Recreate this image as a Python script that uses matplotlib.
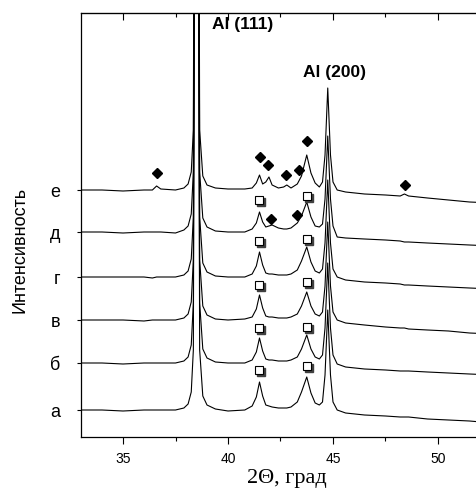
import numpy as np
import matplotlib.pyplot as plt
from matplotlib import transforms

plt.rcParams['font.family'] = ['Liberation Sans', 'DejaVu Sans']

# 2theta grid (deg) and intensity of each pattern above its own baseline
two_theta = [33.0, 34.0, 35.0, 36.0, 36.4, 36.6, 36.8, 37.5, 37.9, 38.1,
             38.25, 38.35, 38.5, 38.65, 38.8, 39.0, 39.4, 40.0, 40.8,
             41.15, 41.35, 41.5, 41.65, 41.8, 41.95, 42.1, 42.4, 42.65, 42.8,
             43.0, 43.3, 43.5, 43.75, 43.95, 44.15, 44.35, 44.5, 44.62, 44.75,
             44.88, 45.0, 45.2, 45.6, 46.5, 47.5, 48.2, 48.4, 48.6, 49.5,
             50.5, 51.5, 52.6]

curve_a = [0, 0, -1, 0, 0, 0, 0, 0, 2, 6,
           18, 60, 1200, 60, 14, 5, 1, -1, 0,
           4, 13, 28, 14, 5, 4, 3, 2, 2, 2,
           3, 8, 18, 33, 17, 7, 5, 8, 35, 100,
           35, 8, 0, -3, -5, -6, -7, -7, -7, -9,
           -10, -11, -13]
curve_b = [0, 0, -1, 0, 0, 0, 0, 0, 2, 6,
           18, 60, 1200, 60, 14, 5, 1, 0, 0,
           3, 11, 25, 12, 4, 3, 3, 2, 2, 2,
           3, 6, 14, 28, 14, 6, 4, 8, 35, 100,
           35, 8, -1, -4, -6, -7, -8, -8, -8, -9,
           -10, -11, -12]
curve_v = [0, 0, 0, -1, 0, 0, 0, 0, 2, 6,
           18, 60, 1200, 60, 14, 5, 1, 0, 1,
           3, 11, 25, 12, 4, 3, 3, 2, 2, 2,
           3, 6, 14, 28, 14, 6, 4, 8, 34, 98,
           34, 8, 0, -3, -5, -7, -8, -8, -9, -10,
           -11, -13, -14]
curve_g = [0, 0, 0, 0, -1, 0, 0, 0, 2, 6,
           18, 60, 1200, 60, 14, 5, 1, 0, 0,
           3, 11, 25, 12, 4, 3, 3, 2, 2, 2,
           3, 7, 16, 30, 15, 6, 4, 8, 34, 97,
           34, 8, 0, -3, -5, -6, -7, -8, -8, -9,
           -10, -11, -12]
curve_d = [0, 0, -1, 0, 0, 0, 0, -1, 2, 6,
           18, 60, 1200, 60, 14, 5, 1, 0, 0,
           3, 9, 20, 10, 5, 6, 7, 4, 3, 3,
           4, 9, 16, 30, 15, 6, 5, 8, 33, 96,
           33, 6, -5, -6, -7, -8, -9, -10, -10, -11,
           -12, -13, -14]
curve_e = [0, 0, -1, 0, 0, 4, 1, 0, 2, 6,
           18, 60, 1200, 60, 14, 5, 2, 1, 1,
           2, 7, 15, 6, 8, 13, 5, 2, 3, 5,
           2, 6, 14, 35, 17, 7, 3, 8, 35, 102,
           35, 8, 0, -2, -4, -5, -6, -4, -6, -8,
           -10, -12, -13]

curves = [curve_a, curve_b, curve_v, curve_g, curve_d, curve_e]
labels = ['а', 'б', 'в', 'г', 'д', 'е']
offsets = [27, 74, 117, 160, 205, 247]

# open squares: curve index, 2theta, height above that curve's baseline
sq_curve = [0, 0, 1, 1, 2, 2, 3, 3, 4, 4]
sq_x = [41.5, 43.75] * 5
sq_rel = [40, 44, 35, 36, 35, 38, 36, 38, 32, 36]

# filled diamonds
dia_curve = [5, 5, 5, 5, 5, 5, 5, 4, 4]
dia_x = [36.6, 41.52, 41.9, 42.76, 43.37, 43.75, 48.43, 42.05, 43.3]
dia_rel = [17, 33, 25, 15, 20, 49, 5, 13, 17]

fig = plt.figure(figsize=(4.77, 4.90), dpi=100)
ax = fig.add_axes([81 / 477, 53 / 490, 412 / 477, 424 / 490])

x = np.array(two_theta)
for c, off in zip(curves, offsets):
    ax.plot(x, np.array(c) + off, color='black', lw=0.8)

sqy = [offsets[i] + r for i, r in zip(sq_curve, sq_rel)]
shadow = transforms.offset_copy(ax.transData, fig=fig, x=1.3, y=-1.3, units='points')
ax.plot(sq_x, sqy, 's', ms=5.5, mfc='0.25', mec='0.25', transform=shadow, zorder=4)
ax.plot(sq_x, sqy, 's', ms=5.5, mfc='white', mec='black', mew=0.8, zorder=5)

diay = [offsets[i] + r for i, r in zip(dia_curve, dia_rel)]
ax.plot(dia_x, diay, 'D', ms=5, color='black', zorder=5)

ax.text(39.24, 408, 'Al (111)', fontweight='bold', fontsize=12.5, va='baseline')
ax.text(43.57, 360, 'Al (200)', fontweight='bold', fontsize=12.5, va='baseline')

ax.set_xlim(33, 33 + 412 / 21)
ax.set_ylim(0, 424)

ax.set_xticks([35, 40, 45, 50])
ax.set_xticks([37.5, 42.5, 47.5, 52.5], minor=True)
ax.tick_params(axis='x', which='major', direction='out', length=5, width=0.8,
               labelsize=10, pad=6)
ax.tick_params(axis='x', which='minor', direction='out', length=3, width=0.8)
ax.set_yticks(offsets, labels)
ax.tick_params(axis='y', direction='out', length=3, width=0.8, labelsize=13, pad=12)

top = ax.secondary_xaxis('top')
top.set_xticks([35, 40, 45, 50])
top.set_xticks([37.5, 42.5, 47.5, 52.5], minor=True)
top.tick_params(which='major', direction='in', length=5, width=0.8, labeltop=False)
top.tick_params(which='minor', direction='in', length=3, width=0.8)

for s in ax.spines.values():
    s.set_linewidth(0.9)

ax.set_xlabel('2Θ, град', family='Liberation Serif', fontsize=16, labelpad=2)
fig.text(20 / 477, 1 - 250 / 490, 'Интенсивность', rotation=90, fontsize=13,
         ha='center', va='center')

fig.savefig('out.png', dpi=100)
